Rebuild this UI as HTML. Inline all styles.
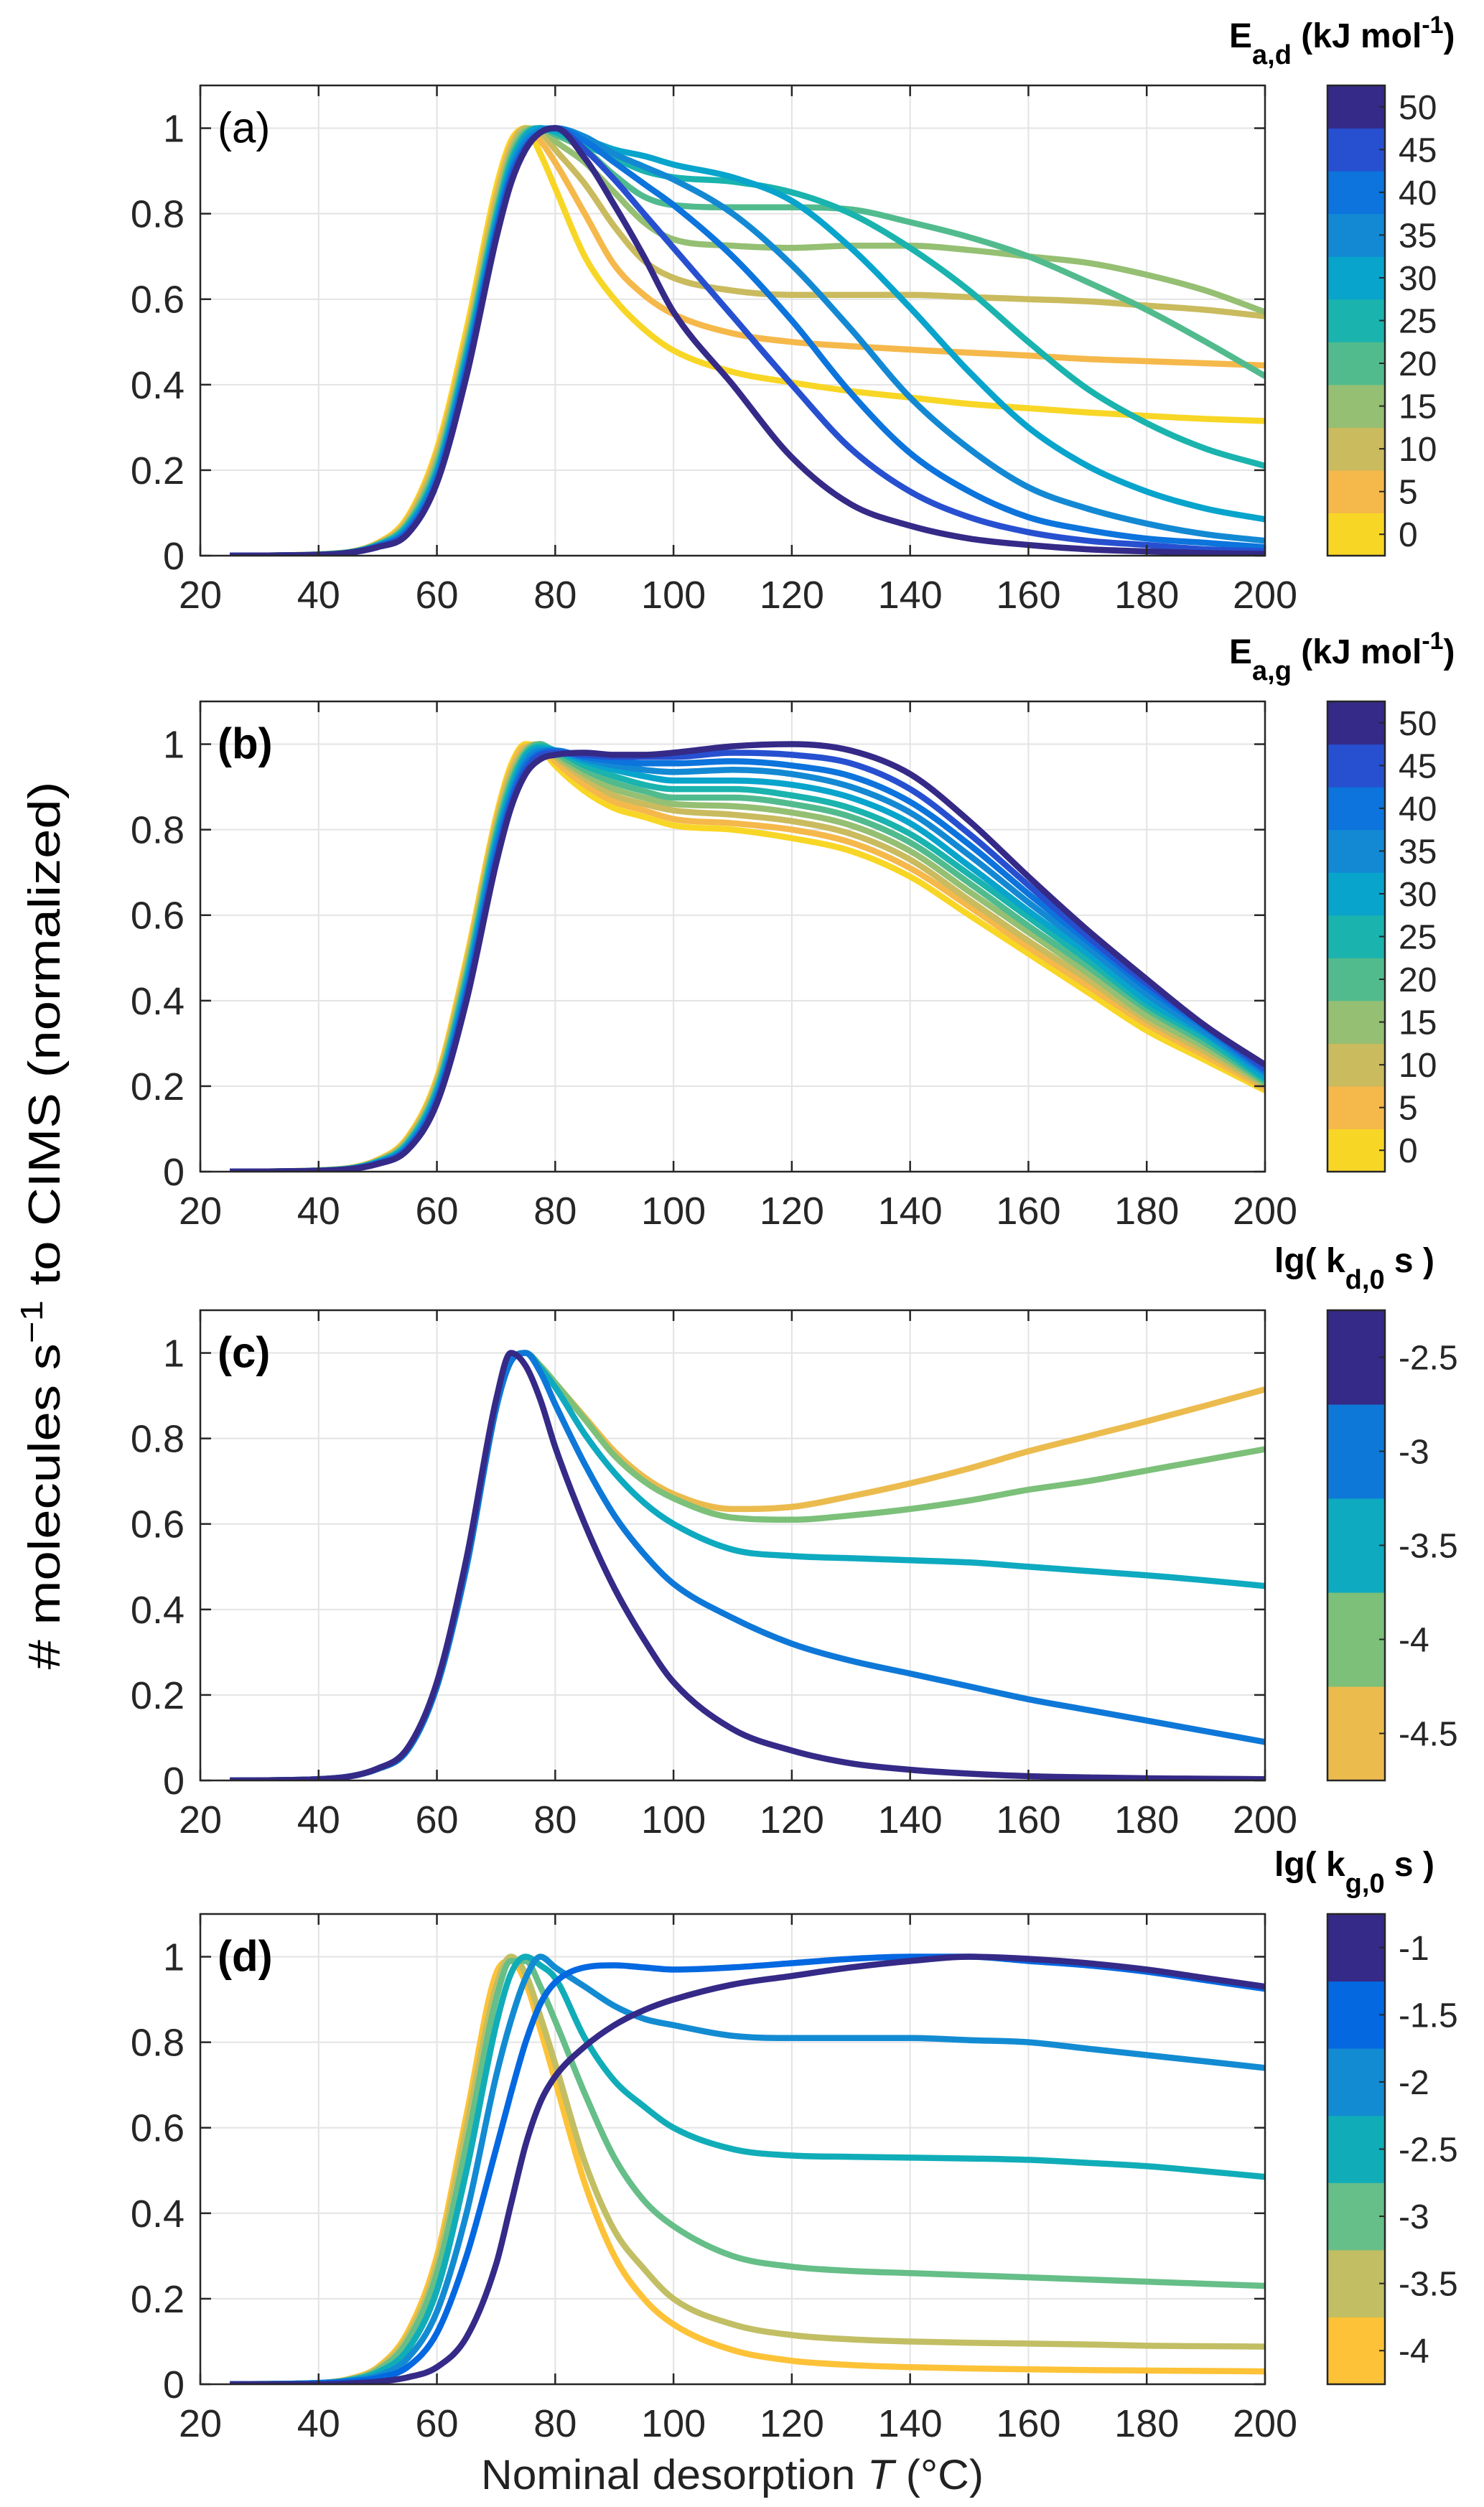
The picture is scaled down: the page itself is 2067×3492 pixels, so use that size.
<!DOCTYPE html>
<html><head><meta charset="utf-8"><style>
html,body{margin:0;padding:0;background:#fff}
svg{display:block;font-family:"Liberation Sans",sans-serif}
</style></head><body>
<svg id="fig" width="2067" height="3492" viewBox="0 0 2067 3492" xmlns="http://www.w3.org/2000/svg">
<rect width="2067" height="3492" fill="#fff"/>
<text transform="translate(83,1707) rotate(-90)" text-anchor="middle" font-size="62" fill="#000" textLength="1237" lengthAdjust="spacingAndGlyphs"># molecules s<tspan dy="-24" font-size="44">−1</tspan><tspan dy="24"> to CIMS (normalized)</tspan></text>
<text x="1020" y="3467" text-anchor="middle" font-size="58" fill="#222" textLength="700" lengthAdjust="spacingAndGlyphs">Nominal desorption <tspan font-style="italic">T</tspan> (°C)</text>
</svg>
<script>
const gridA=[25,40,50,55,60,65,70,72.5,75,77.5,80,85,90,95,100,110,120,130,140,150,160,170,180,190,200];
const labelsA=[0,5,10,15,20,25,30,35,40,45,50];
const colorsA=['#f8d626','#f5b84a','#c9bb5e','#95bf72','#52bb8e','#1ab3ae','#08a4cc','#1389d4','#0c74dc','#2750d0','#352a87'];
const a0=[0,.003,.03,.09,.25,.53,.86,.97,1.0,.94,.86,.70,.60,.53,.48,.43,.405,.385,.37,.355,.345,.335,.327,.32,.315];
const a5=[0,.003,.029,.085,.24,.51,.84,.96,1.0,.97,.92,.80,.68,.61,.565,.52,.50,.49,.482,.475,.468,.46,.455,.45,.445];
const a10=[0,.003,.028,.08,.23,.50,.83,.95,1.0,.99,.95,.87,.77,.69,.65,.62,.61,.61,.61,.605,.60,.595,.585,.575,.56];
const a15=[0,.003,.027,.077,.22,.49,.81,.94,.995,1.0,.97,.92,.85,.78,.74,.725,.72,.725,.725,.715,.70,.685,.657,.62,.57];
const a20=[0,.003,.026,.073,.21,.48,.80,.93,.99,1.0,.985,.95,.89,.84,.82,.815,.815,.81,.78,.745,.70,.64,.575,.50,.42];
const a25=[0,.002,.025,.07,.20,.47,.79,.92,.985,1.0,.99,.96,.93,.90,.885,.875,.85,.80,.72,.62,.50,.39,.31,.25,.21];
const a30=[0,.002,.024,.066,.195,.46,.78,.91,.98,1.0,.995,.975,.95,.935,.915,.885,.83,.72,.58,.43,.30,.21,.15,.11,.085];
const a35=[0,.002,.023,.062,.19,.45,.77,.90,.97,.995,1.0,.98,.94,.91,.88,.80,.68,.53,.37,.25,.16,.11,.075,.05,.035];
const a40=[0,.002,.022,.058,.18,.44,.76,.89,.96,.99,1.0,.97,.92,.87,.82,.70,.55,.38,.24,.15,.09,.06,.04,.03,.02];
const a45=[0,.002,.021,.054,.175,.43,.75,.88,.955,.99,1.0,.95,.88,.80,.72,.56,.40,.25,.15,.09,.055,.035,.025,.015,.01];
const a50=[0,.002,.02,.05,.17,.42,.74,.87,.95,.99,1.0,.93,.82,.70,.57,.40,.23,.12,.07,.04,.025,.015,.01,.006,.004];
const seriesA=[a0,a5,a10,a15,a20,a25,a30,a35,a40,a45,a50];

const gridB=gridA;
const labelsB=labelsA;
const colorsB=colorsA;
const b0=[0,.003,.028,.08,.22,.50,.83,.95,1.0,.99,.95,.89,.85,.83,.81,.80,.78,.75,.69,.60,.51,.42,.33,.26,.19];
const b5=[0,.003,.027,.077,.214,.49,.82,.94,.995,.995,.96,.905,.865,.845,.825,.815,.80,.77,.71,.62,.525,.435,.345,.27,.195];
const b10=[0,.003,.026,.074,.208,.48,.81,.93,.99,1.0,.97,.92,.88,.86,.845,.835,.82,.79,.73,.635,.54,.45,.355,.28,.20];
const b15=[0,.003,.025,.071,.202,.47,.80,.92,.985,1.0,.975,.93,.895,.875,.86,.855,.84,.81,.75,.655,.56,.465,.365,.29,.205];
const b20=[0,.003,.024,.068,.196,.46,.79,.91,.98,1.0,.98,.94,.91,.89,.875,.875,.86,.83,.77,.675,.575,.48,.38,.30,.21];
const b25=[0,.002,.023,.065,.19,.45,.78,.90,.975,.995,.985,.95,.925,.905,.895,.895,.88,.85,.79,.695,.595,.495,.39,.31,.215];
const b30=[0,.002,.022,.062,.184,.44,.77,.89,.97,.99,.985,.96,.94,.925,.915,.915,.905,.875,.815,.715,.61,.51,.40,.32,.22];
const b35=[0,.002,.021,.059,.178,.43,.76,.88,.96,.985,.985,.965,.95,.94,.935,.94,.93,.90,.84,.74,.63,.525,.415,.325,.23];
const b40=[0,.002,.02,.056,.172,.42,.745,.87,.95,.98,.985,.97,.96,.955,.955,.96,.95,.925,.865,.765,.65,.54,.43,.335,.235];
const b45=[0,.002,.019,.053,.166,.41,.73,.86,.94,.975,.98,.975,.97,.97,.97,.98,.975,.955,.895,.79,.67,.55,.44,.34,.24];
const b50=[0,.002,.018,.05,.16,.40,.72,.85,.93,.965,.975,.98,.975,.975,.98,.995,1.0,.985,.93,.82,.69,.565,.45,.34,.25];
const seriesB=[b0,b5,b10,b15,b20,b25,b30,b35,b40,b45,b50];

const gridC=gridA;
const labelsC=['-4.5','-4','-3.5','-3','-2.5'];
const colorsC=['#ebbb4e','#7cc07a','#0eaac0','#0e78d8','#352a87'];
const c45=[0,.003,.027,.07,.22,.50,.87,.98,1.0,.97,.93,.85,.77,.71,.67,.635,.64,.665,.695,.73,.77,.805,.84,.877,.915];
const c40=[0,.003,.027,.07,.22,.50,.87,.98,1.0,.97,.93,.845,.76,.70,.66,.615,.61,.62,.635,.655,.68,.70,.725,.75,.775];
const c35=[0,.003,.027,.07,.22,.50,.87,.98,1.0,.965,.92,.81,.72,.65,.60,.54,.525,.52,.515,.51,.50,.49,.48,.468,.455];
const c30=[0,.003,.027,.07,.22,.50,.87,.98,1.0,.955,.88,.74,.62,.53,.46,.38,.32,.28,.25,.22,.19,.165,.14,.115,.09];
const c25=[0,.003,.028,.075,.23,.52,.89,1.0,.97,.89,.78,.60,.45,.33,.23,.12,.07,.04,.025,.016,.01,.007,.005,.004,.003];
const seriesC=[c45,c40,c35,c30,c25];

const gridD=[25,40,45,50,55,60,65,70,72.5,75,77.5,80,85,90,95,100,110,120,130,140,150,160,170,180,190,200];
const labelsD=['-4','-3.5','-3','-2.5','-2','-1.5','-1'];
const colorsD=['#fdc237','#c2be64','#66be88','#10adb8','#138bd2','#0468e1','#352a87'];
const d40=[0,.003,.012,.04,.12,.30,.63,.96,.99,.94,.83,.71,.47,.30,.20,.14,.08,.055,.045,.04,.037,.035,.033,.032,.031,.03];
const d35=[0,.003,.011,.037,.11,.28,.60,.93,1.0,.96,.86,.75,.52,.36,.27,.20,.14,.115,.105,.10,.097,.095,.093,.09,.089,.088];
const d30=[0,.003,.01,.033,.10,.26,.56,.90,.99,.99,.93,.85,.68,.53,.43,.37,.30,.275,.265,.26,.255,.25,.245,.24,.235,.23];
const d25=[0,.003,.009,.028,.08,.22,.50,.84,.96,1.0,.98,.95,.81,.71,.65,.60,.55,.535,.532,.53,.528,.525,.518,.51,.498,.485];
const d20=[0,.003,.008,.02,.06,.17,.40,.72,.85,.95,1.0,.975,.93,.885,.855,.84,.815,.81,.81,.81,.805,.80,.785,.77,.755,.74];
const d15=[0,.002,.006,.015,.04,.12,.30,.55,.68,.80,.89,.94,.975,.98,.975,.97,.975,.985,.995,1.0,1.0,.99,.98,.965,.945,.925];
const d10=[0,0,.002,.006,.016,.04,.11,.28,.42,.56,.66,.72,.79,.84,.875,.90,.935,.955,.975,.99,1.0,.995,.985,.97,.95,.93];
const seriesD=[d40,d35,d30,d25,d20,d15,d10];

const xTicks=[20,40,60,80,100,120,140,160,180,200];
const yTicks=[0,0.2,0.4,0.6,0.8,1];
const yTickLabels=['0','0.2','0.4','0.6','0.8','1'];

const NS='http://www.w3.org/2000/svg';
const svg=document.getElementById('fig');
function mk(tag,attrs,parent){const e=document.createElementNS(NS,tag);for(const k in attrs)e.setAttribute(k,attrs[k]);(parent||svg).appendChild(e);return e;}
const L=279,R=1762,H=655;
function monoPath(xs,ys){
  const n=xs.length,d=[],m=new Array(n);
  for(let i=0;i<n-1;i++)d.push((ys[i+1]-ys[i])/(xs[i+1]-xs[i]));
  m[0]=d[0];m[n-1]=d[n-2];
  for(let i=1;i<n-1;i++){ if(d[i-1]*d[i]<=0)m[i]=0; else {m[i]=(d[i-1]+d[i])/2;} }
  for(let i=0;i<n-1;i++){ if(d[i]===0){m[i]=0;m[i+1]=0;continue;} const a=m[i]/d[i],b=m[i+1]/d[i]; const s=a*a+b*b; if(s>9){const t=3/Math.sqrt(s);m[i]=t*a*d[i];m[i+1]=t*b*d[i];} }
  let p='M'+xs[0].toFixed(1)+','+ys[0].toFixed(1);
  for(let i=0;i<n-1;i++){const h=xs[i+1]-xs[i];
    p+=' C'+(xs[i]+h/3).toFixed(1)+','+(ys[i]+m[i]*h/3).toFixed(1)+' '+(xs[i+1]-h/3).toFixed(1)+','+(ys[i+1]-m[i+1]*h/3).toFixed(1)+' '+xs[i+1].toFixed(1)+','+ys[i+1].toFixed(1);}
  return p;
}
function panel(id,top,grid,series,colors,labels,tag,titleParts){
  const bot=top+H;
  const sx=v=>L+(v-20)*(R-L)/180;
  const sy=v=>bot-v*(H/1.1);
  const g=mk('g',{});
  
  
  const cp=mk('clipPath',{id:'clip'+id},g);
  mk('rect',{x:L,y:top,width:R-L,height:H},cp);
  xTicks.forEach(t=>{const l=mk('line',{x1:sx(t),x2:sx(t),y1:top,y2:bot,stroke:'#e3e3e3','stroke-width':2},g);
    });
  yTicks.forEach(t=>{const l=mk('line',{x1:L,x2:R,y1:sy(t),y2:sy(t),stroke:'#e3e3e3','stroke-width':2},g);
    });
  const lines=mk('g',{'clip-path':'url(#clip'+id+')'},g);
  series.forEach((s,i)=>{
    const p=mk('path',{d:monoPath(grid.map(sx),s.map(sy)),fill:'none',stroke:colors[i],'stroke-width':8.5,'stroke-linejoin':'round'},lines);
    
    
  });
  const box=mk('rect',{x:L,y:top,width:R-L,height:H,fill:'none',stroke:'#262626','stroke-width':2.5},g);
  
  xTicks.forEach(t=>{
    mk('line',{x1:sx(t),x2:sx(t),y1:bot,y2:bot-15,stroke:'#262626','stroke-width':2.5},g);
    mk('line',{x1:sx(t),x2:sx(t),y1:top,y2:top+15,stroke:'#262626','stroke-width':2.5},g);
    const tx=mk('text',{x:sx(t),y:bot+73,'text-anchor':'middle','font-size':54,fill:'#262626'},g);tx.textContent=t;
    
  });
  yTicks.forEach((t,i)=>{
    mk('line',{x1:L,x2:L+15,y1:sy(t),y2:sy(t),stroke:'#262626','stroke-width':2.5},g);
    mk('line',{x1:R,x2:R-15,y1:sy(t),y2:sy(t),stroke:'#262626','stroke-width':2.5},g);
    const tx=mk('text',{x:257,y:sy(t)+19,'text-anchor':'end','font-size':54,fill:'#262626'},g);tx.textContent=yTickLabels[i];
    
  });
  const pl=mk('text',{x:303,y:sy(1)+20,'font-size':60,'font-weight':id==='a'?'normal':'bold',fill:'#000'},g);pl.textContent=tag;
  
  const cb=mk('g',{},g);
  
  const n=colors.length,bh=H/n;
  colors.forEach((c,i)=>{
    const y=bot-(i+1)*bh;
    const r=mk('rect',{x:1849,y:y,width:80,height:bh+0.5,fill:c},cb);
    
    mk('line',{x1:1929,x2:1921,y1:y+bh/2,y2:y+bh/2,stroke:'#262626','stroke-width':2},cb);
    const tx=mk('text',{x:1948,y:y+bh/2+17,'font-size':48,fill:'#262626'},cb);tx.textContent=labels[i];
    
  });
  mk('rect',{x:1849,y:top,width:80,height:H,fill:'none',stroke:'#262626','stroke-width':2.5},cb);
  const tt=mk('text',{x:titleParts.x,y:top-53,'font-size':48,'font-weight':'bold',fill:'#000'},g);
  
  tt.innerHTML=titleParts.html;
}
panel('a',119,gridA,seriesA,colorsA,labelsA,'(a)',{x:1712,html:'E<tspan dy="23" font-size="38">a,d</tspan><tspan dy="-23"> (kJ mol</tspan><tspan dy="-20" font-size="34">-1</tspan><tspan dy="20">)</tspan>'});
panel('b',977,gridB,seriesB,colorsB,labelsB,'(b)',{x:1712,html:'E<tspan dy="23" font-size="38">a,g</tspan><tspan dy="-23"> (kJ mol</tspan><tspan dy="-20" font-size="34">-1</tspan><tspan dy="20">)</tspan>'});
panel('c',1825,gridC,seriesC,colorsC,labelsC,'(c)',{x:1775,html:'lg( k<tspan dy="23" font-size="38">d,0</tspan><tspan dy="-23"> s )</tspan>'});
panel('d',2666,gridD,seriesD,colorsD,labelsD,'(d)',{x:1775,html:'lg( k<tspan dy="23" font-size="38">g,0</tspan><tspan dy="-23"> s )</tspan>'});
</script>
</body></html>
